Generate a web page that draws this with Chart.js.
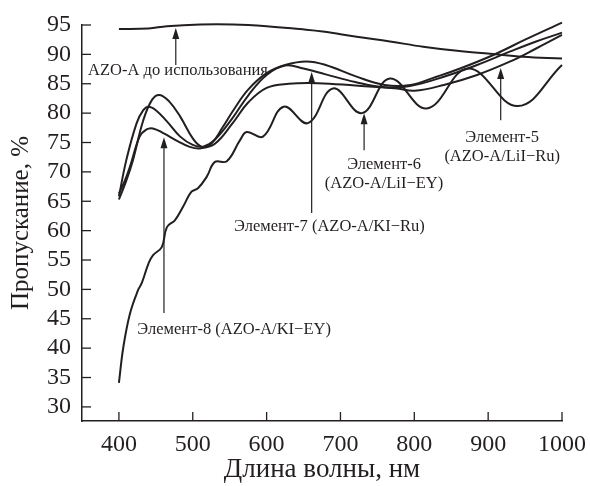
<!DOCTYPE html>
<html>
<head>
<meta charset="utf-8">
<script src="https://cdn.jsdelivr.net/npm/chart.js@4.4.1/dist/chart.umd.min.js"></script>
<style>
  html, body { margin: 0; padding: 0; background: #fff; }
</style>
</head>
<body>
<canvas id="chart" width="590" height="486"></canvas>
<script>
// wavelength (nm) / transmittance (%)
const azoX = [400, 440, 465, 510, 555, 600, 645, 676, 722, 767, 812, 858, 903, 947, 1000];
const azoY = [94.3, 94.4, 94.8, 95.1, 95.1, 94.8, 94.3, 93.9, 93.0, 92.2, 91.3, 90.6, 90.1, 89.6, 89.3];

const el5X = [400, 410, 419, 433, 445, 455, 468, 483, 500, 512, 525, 540, 555, 575, 600, 625, 654, 680, 720, 760, 795, 830, 862, 907, 950, 1000];
const el5Y = [65.3, 68.5, 72.0, 78.8, 82.3, 83.1, 82.0, 79.4, 75.7, 74.3, 74.8, 77.5, 80.5, 84.0, 86.8, 88.2, 88.8, 88.2, 86.3, 84.8, 84.8, 86.2, 87.6, 89.9, 92.5, 95.4];

const el7X = [400, 410, 424, 433, 440, 450, 465, 483, 500, 514, 530, 554, 575, 600, 625, 650, 680, 720, 760, 794, 840, 885, 930, 965, 1000];
const el7Y = [65.8, 72.0, 78.3, 80.5, 81.1, 80.5, 78.6, 76.0, 74.6, 74.3, 75.5, 79.2, 83.0, 86.5, 88.1, 87.6, 86.6, 85.3, 84.4, 84.6, 86.2, 88.2, 90.5, 92.2, 93.7];

const el8X = [400, 408, 415, 428, 437, 446, 460, 480, 495, 510, 530, 554, 575, 600, 630, 670, 720, 777, 800, 840, 885, 930, 965, 1000];
const el8Y = [66.3, 68.5, 70.9, 76.0, 77.2, 77.4, 76.6, 75.2, 74.3, 74.0, 74.8, 78.3, 81.8, 84.3, 85.0, 85.1, 84.7, 84.2, 83.8, 84.8, 86.5, 88.8, 91.0, 93.3];

const el6X = [400, 406, 415, 426, 431, 440, 446, 458, 465, 476, 487, 498, 507, 519, 530, 546, 564, 573, 595, 623, 656, 690, 729, 767, 817, 873, 940, 1000];
const el6Y = [34.1, 40.2, 45.9, 49.9, 51.1, 54.4, 55.8, 57.2, 60.6, 61.8, 64.1, 66.6, 67.2, 69.2, 71.7, 71.8, 75.4, 76.8, 76.0, 81.1, 78.3, 84.2, 80.0, 85.9, 80.8, 87.6, 81.2, 88.2];

const xTicks = [400, 500, 600, 700, 800, 900, 1000];
const yTicks = [30, 35, 40, 45, 50, 55, 60, 65, 70, 75, 80, 85, 90, 95];

// labels with arrows: text position and arrow (x, tail y, tip y) in data units
const callouts = [
    { lines: ['AZO-A до использования'], tx: 480, ty: 87.3, ax: 477, from: 88.2, to: 94.5 },
    { lines: ['Элемент-8 (AZO-A/KI\u2212EY)'], tx: 556, ty: 43.1, ax: 461, from: 46.0, to: 75.9 },
    { lines: ['Элемент-7 (AZO-A/KI\u2212Ru)'], tx: 685, ty: 60.6, ax: 661, from: 63.0, to: 87.0 },
    { lines: ['Элемент-6', '(AZO-A/LiI\u2212EY)'], tx: 759, ty: 71.3, ax: 732, from: 73.7, to: 80.0 },
    { lines: ['Элемент-5', '(AZO-A/LiI\u2212Ru)'], tx: 919, ty: 75.9, ax: 917, from: 78.8, to: 87.7 }
];

const INK = "#231f20";
const SERIF = '"Liberation Serif", "Times New Roman", serif';

function pts(xs, ys) {
    return xs.map((x, i) => ({ x: x, y: ys[i] }));
}

function curve(label, xs, ys) {
    return {
        label: label,
        data: pts(xs, ys),
        borderColor: INK,
        borderWidth: 2,
        pointRadius: 0,
        fill: false,
        tension: 0.4,
        clip: false
    };
}

// inward tick marks + callouts
const extras = {
    id: "extras",
    afterDraw(chart) {
        const ctx = chart.ctx;
        const xs = chart.scales.x, ys = chart.scales.y;
        ctx.save();
        ctx.strokeStyle = INK;
        ctx.fillStyle = INK;
        ctx.lineWidth = 1.3;
        xs.ticks.forEach(t => {
            const p = xs.getPixelForValue(t.value);
            ctx.beginPath(); ctx.moveTo(p, xs.top); ctx.lineTo(p, xs.top - 9); ctx.stroke();
        });
        ys.ticks.forEach(t => {
            const p = ys.getPixelForValue(t.value);
            ctx.beginPath(); ctx.moveTo(ys.right, p); ctx.lineTo(ys.right + 9, p); ctx.stroke();
        });

        ctx.font = "16.5px " + SERIF;
        ctx.textAlign = "center";
        ctx.textBaseline = "middle";
        callouts.forEach(c => {
            const tx = xs.getPixelForValue(c.tx);
            const ty = ys.getPixelForValue(c.ty);
            c.lines.forEach((s, i) => ctx.fillText(s, tx, ty + i * 19));

            const ax = xs.getPixelForValue(c.ax);
            const y0 = ys.getPixelForValue(c.from);
            const y1 = ys.getPixelForValue(c.to);
            ctx.lineWidth = 1.2;
            ctx.beginPath(); ctx.moveTo(ax, y0); ctx.lineTo(ax, y1 + 8); ctx.stroke();
            ctx.beginPath();
            ctx.moveTo(ax, y1);
            ctx.lineTo(ax - 3.5, y1 + 11);
            ctx.lineTo(ax + 3.5, y1 + 11);
            ctx.closePath();
            ctx.fill();
        });
        ctx.restore();
    }
};

new Chart(document.getElementById("chart"), {
    type: "line",
    data: {
        datasets: [
            curve("AZO-A до использования", azoX, azoY),
            curve("Элемент-5 (AZO-A/LiI−Ru)", el5X, el5Y),
            curve("Элемент-7 (AZO-A/KI−Ru)", el7X, el7Y),
            curve("Элемент-8 (AZO-A/KI−EY)", el8X, el8Y),
            curve("Элемент-6 (AZO-A/LiI−EY)", el6X, el6Y)
        ]
    },
    options: {
        responsive: false,
        animation: false,
        layout: { padding: { top: 25, right: 28, left: 0, bottom: 0 } },
        plugins: { legend: { display: false }, tooltip: { enabled: false } },
        scales: {
            x: {
                type: "linear",
                min: 350,
                max: 1000,
                afterBuildTicks: s => { s.ticks = xTicks.map(v => ({ value: v })); },
                afterFit: s => { s.height = 65; s.paddingRight = 0; s.paddingLeft = 0; },
                grid: { display: false, drawTicks: false },
                border: { display: true, color: INK, width: 1.5 },
                ticks: { padding: 9, color: INK, font: { family: SERIF, size: 24 }, maxRotation: 0, autoSkip: false, callback: v => String(v) },
                title: { display: true, text: "Длина волны, нм", color: INK, font: { family: SERIF, size: 27 }, padding: 0 }
            },
            y: {
                min: 27.6,
                max: 95,
                afterBuildTicks: s => { s.ticks = yTicks.map(v => ({ value: v })); },
                afterFit: s => { s.width = 82; s.paddingTop = 0; s.paddingBottom = 0; },
                grid: { display: false, drawTicks: false },
                border: { display: true, color: INK, width: 1.5 },
                ticks: { padding: 11, color: INK, font: { family: SERIF, size: 24 }, autoSkip: false, callback: v => String(v) },
                title: { display: true, text: "Пропускание, %", color: INK, font: { family: SERIF, size: 25 }, padding: { top: 6, bottom: 0 } }
            }
        }
    },
    plugins: [extras]
});
</script>
</body>
</html>
